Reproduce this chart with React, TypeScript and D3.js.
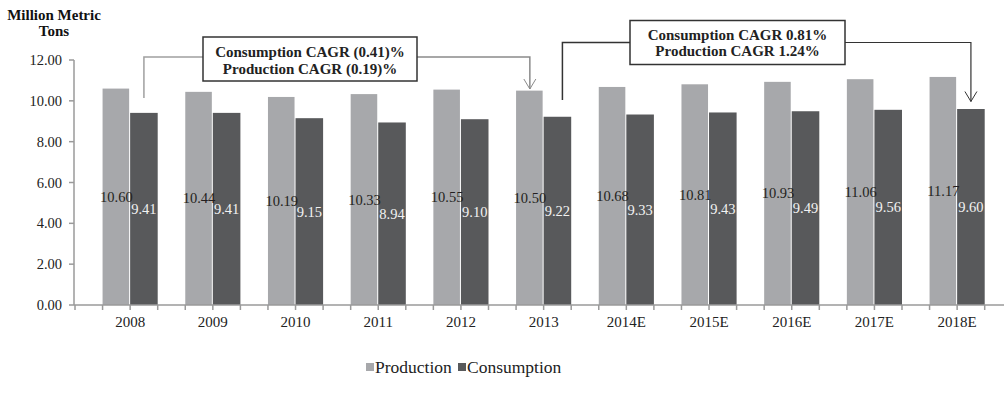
import React from "react";
import * as d3 from "d3";

const years = ["2008", "2009", "2010", "2011", "2012", "2013", "2014E", "2015E", "2016E", "2017E", "2018E"];
const production = [10.6, 10.44, 10.19, 10.33, 10.55, 10.5, 10.68, 10.81, 10.93, 11.06, 11.17];
const consumption = [9.41, 9.41, 9.15, 8.94, 9.1, 9.22, 9.33, 9.43, 9.49, 9.56, 9.6];
const yTicks = [0, 2, 4, 6, 8, 10, 12];
const seriesNames = ["Production", "Consumption"];
const box1Lines = ["Consumption CAGR (0.41)%", "Production CAGR (0.19)%"];
const box2Lines = ["Consumption CAGR 0.81%", "Production CAGR 1.24%"];

const W = 1005;
const H = 405;
const PROD = "#a7a8ab";
const CONS = "#58595b";
const AXIS = "#9a9a9a";
const FONT = "'Liberation Serif', 'Times New Roman', serif";

export default function App() {
  const x = d3.scaleBand<string>().domain(years).range([75, 984.7]).padding(0);
  const y = d3.scaleLinear().domain([0, 12]).range([305, 60]);
  const P = x.bandwidth();
  const third = P / 3;
  const prodX = (i: number) => (x(years[i]) as number) + third;
  const consX = (i: number) => (x(years[i]) as number) + 2 * third;
  const tickXs = d3.range(0, years.length * 3 + 1).map((k) => 75 + k * third);

  // connector geometry from scales
  const c1LeftX = consX(0) + third / 2;
  const c1RightX = prodX(5) + third / 2;
  const c2LeftX = consX(5) + third / 2 + 5;
  const c2RightX = consX(10) + third / 2;

  const arrow = (ax: number, ay: number, color: string) => (
    <polyline
      points={`${ax - 6},${ay - 10} ${ax},${ay} ${ax + 6},${ay - 10}`}
      fill="none"
      stroke={color}
      strokeWidth={1}
    />
  );

  return (
    <svg width={W} height={H} style={{ position: "absolute", left: 0, top: 0, background: "#fff" }} fontFamily={FONT}>
      {/* axis title */}
      <text x={54} y={20} textAnchor="middle" fontWeight="bold" fontSize={15} fill="#111">
        Million Metric
      </text>
      <text x={54} y={36} textAnchor="middle" fontWeight="bold" fontSize={15} fill="#111">
        Tons
      </text>

      {/* bars */}
      {years.map((yr, i) => (
        <g key={yr}>
          <rect x={prodX(i)} y={y(production[i])} width={third - 1} height={y(0) - y(production[i])} fill={PROD} />
          <rect x={consX(i)} y={y(consumption[i])} width={third} height={y(0) - y(consumption[i])} fill={CONS} />
        </g>
      ))}

      {/* y axis */}
      <line x1={74} x2={74} y1={y(12)} y2={y(0)} stroke={AXIS} strokeWidth={1.5} />
      {yTicks.map((t) => (
        <g key={t}>
          <line x1={69} x2={74} y1={y(t)} y2={y(t)} stroke={AXIS} strokeWidth={1.5} />
          <text x={62} y={y(t) + 5} textAnchor="end" fontSize={14.5} fill="#222">
            {t.toFixed(2)}
          </text>
        </g>
      ))}

      {/* x axis */}
      <line x1={74} x2={1004} y1={y(0)} y2={y(0)} stroke={AXIS} strokeWidth={1.5} />
      {tickXs.map((tx, k) => (
        <line key={k} x1={tx} x2={tx} y1={y(0)} y2={y(0) + 5} stroke={AXIS} strokeWidth={1.5} />
      ))}
      {years.map((yr, i) => (
        <text key={yr} x={consX(i)} y={327} textAnchor="middle" fontSize={15} fill="#222">
          {yr}
        </text>
      ))}

      {/* value labels */}
      {years.map((yr, i) => (
        <g key={"l" + yr}>
          <text
            x={prodX(i) + third / 2}
            y={(y(production[i]) + y(0)) / 2 + 5}
            textAnchor="middle"
            fontSize={14.5}
            fill="#231f20"
          >
            {production[i].toFixed(2)}
          </text>
          <text
            x={consX(i) + third / 2}
            y={(y(consumption[i]) + y(0)) / 2 + 5}
            textAnchor="middle"
            fontSize={14.5}
            fill="#f2f2f2"
          >
            {consumption[i].toFixed(2)}
          </text>
        </g>
      ))}

      {/* annotation 1 */}
      <polyline
        points={`203,57 ${c1LeftX},57 ${c1LeftX},98`}
        fill="none"
        stroke="#a0a0a0"
        strokeWidth={1.5}
      />
      <polyline
        points={`417,57 ${c1RightX},57 ${c1RightX},89`}
        fill="none"
        stroke="#8a8a8a"
        strokeWidth={1.5}
      />
      {arrow(c1RightX, 89, "#8a8a8a")}
      <rect x={203} y={37} width={214} height={44} fill="#fff" stroke="#333" strokeWidth={1.5} />
      {box1Lines.map((t, k) => (
        <text key={t} x={310} y={57 + k * 16.5} textAnchor="middle" fontWeight="bold" fontSize={15} fill="#222">
          {t}
        </text>
      ))}

      {/* annotation 2 */}
      <polyline
        points={`630,42.5 ${c2LeftX},42.5 ${c2LeftX},100`}
        fill="none"
        stroke="#333"
        strokeWidth={1.5}
      />
      <polyline
        points={`845,42.5 ${c2RightX},42.5 ${c2RightX},101.5`}
        fill="none"
        stroke="#333"
        strokeWidth={1.2}
      />
      {arrow(c2RightX, 101.5, "#333")}
      <rect x={630} y={20.5} width={215} height={44} fill="#fff" stroke="#333" strokeWidth={1.5} />
      {box2Lines.map((t, k) => (
        <text key={t} x={737.5} y={40 + k * 16} textAnchor="middle" fontWeight="bold" fontSize={15} fill="#222">
          {t}
        </text>
      ))}

      {/* legend */}
      <g>
        <rect x={366} y={363} width={8} height={8} fill={PROD} />
        <text x={375} y={373} fontSize={17.5} fill="#222">
          {seriesNames[0]}
        </text>
        <rect x={458} y={363} width={8} height={8} fill={CONS} />
        <text x={467} y={373} fontSize={17.5} fill="#222">
          {seriesNames[1]}
        </text>
      </g>
    </svg>
  );
}
